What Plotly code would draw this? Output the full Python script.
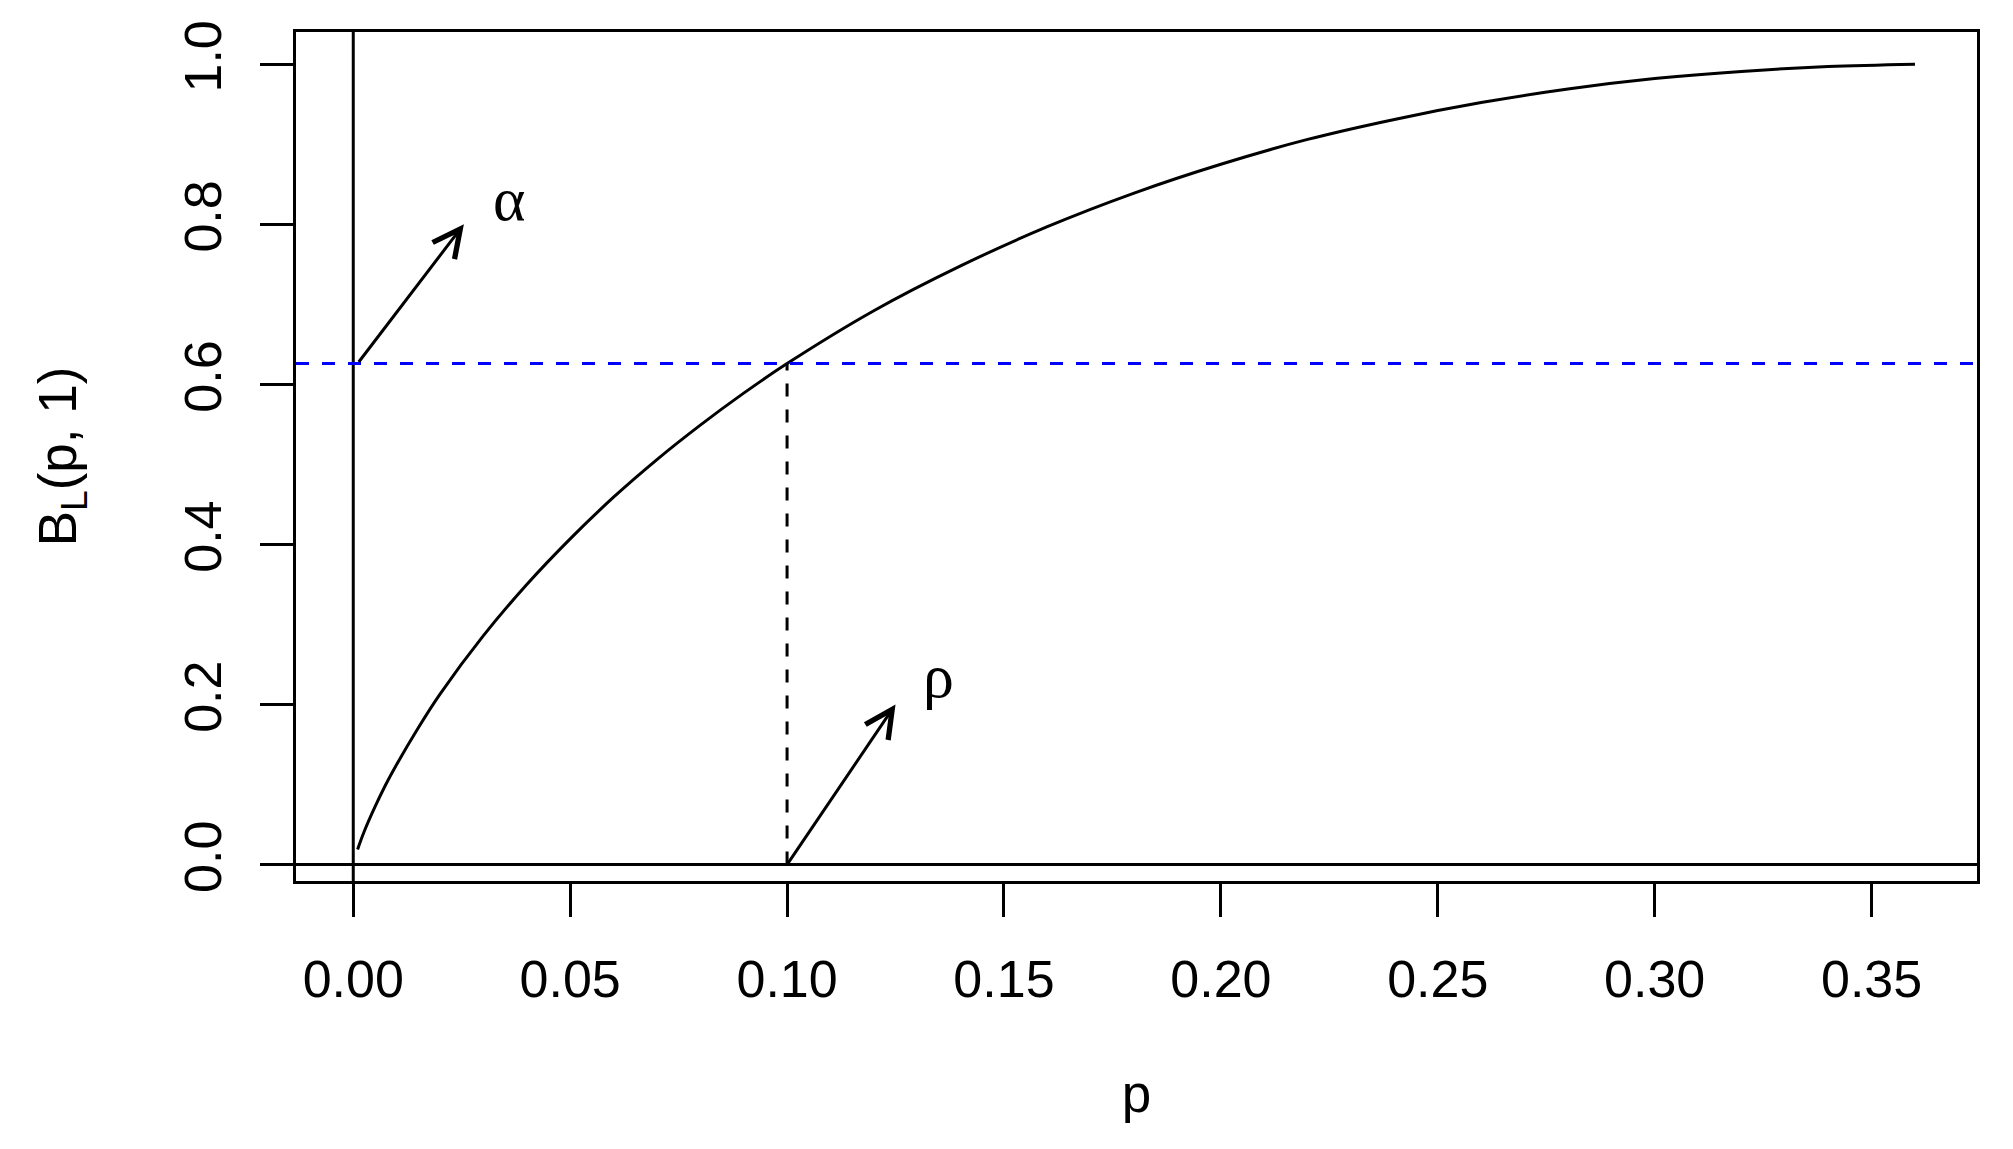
import plotly.graph_objects as go

# curve B_L(p, 1)
p_vals = [0.001, 0.0025, 0.005, 0.0075, 0.01, 0.015, 0.02, 0.03, 0.04, 0.05,
          0.06, 0.07, 0.08, 0.09, 0.10, 0.12, 0.14, 0.16, 0.18, 0.20,
          0.22, 0.24, 0.26, 0.28, 0.30, 0.32, 0.34, 0.36]
b_vals = [0.019, 0.041, 0.072, 0.100, 0.125, 0.171, 0.213, 0.286, 0.350, 0.407,
          0.459, 0.506, 0.549, 0.589, 0.626, 0.692, 0.748, 0.797, 0.839, 0.875,
          0.906, 0.931, 0.952, 0.969, 0.982, 0.991, 0.997, 1.000]

alpha = 0.626   # blue dashed level
rho = 0.10      # where the curve meets alpha

# arrows: (tail_x, tail_y, tip_x, tip_y) and their labels
arrow_alpha = (0.001, alpha, 0.0255, 0.80)
arrow_rho = (rho, 0.0, 0.125, 0.20)
label_alpha = (0.036, 0.831, "α")
label_rho = (0.135, 0.235, "ρ")

x_ticks = [0.00, 0.05, 0.10, 0.15, 0.20, 0.25, 0.30, 0.35]
x_labels = ["0.00", "0.05", "0.10", "0.15", "0.20", "0.25", "0.30", "0.35"]
y_ticks = [0.0, 0.2, 0.4, 0.6, 0.8, 1.0]
y_labels = ["0.0", "0.2", "0.4", "0.6", "0.8", "1.0"]

FONT = "Liberation Sans, Arial, sans-serif"
GREEK = "Liberation Serif, DejaVu Serif, serif"
LW = 3

fig = go.Figure()
fig.add_trace(go.Scatter(
    x=p_vals, y=b_vals, mode="lines",
    line=dict(color="black", width=LW, shape="spline"),
    hoverinfo="skip"
))

# reference lines
fig.add_hline(y=0, line=dict(color="black", width=LW))
fig.add_vline(x=0, line=dict(color="black", width=LW))
fig.add_hline(y=alpha, line=dict(color="blue", width=LW, dash="13px,13px"))
fig.add_shape(type="line", x0=rho, x1=rho, y0=0, y1=alpha,
              line=dict(color="black", width=LW, dash="13px,13px"))

for tx, ty, hx, hy in (arrow_alpha, arrow_rho):
    fig.add_annotation(x=hx, y=hy, ax=tx, ay=ty, axref="x", ayref="y",
                       xref="x", yref="y", text="", showarrow=True,
                       arrowhead=5, arrowsize=1.8, arrowwidth=LW,
                       arrowcolor="black", standoff=0, startstandoff=0)

for lx, ly, txt in (label_alpha, label_rho):
    fig.add_annotation(x=lx, y=ly, text=txt, showarrow=False,
                       xanchor="center", yanchor="middle",
                       font=dict(family=GREEK, size=62, color="black"))

axis_common = dict(
    showline=True, mirror=True, linecolor="black", linewidth=LW,
    ticks="outside", ticklen=33, tickwidth=LW, tickcolor="black",
    showgrid=False, zeroline=False,
    tickfont=dict(family=FONT, size=52, color="black"),
)

fig.update_xaxes(range=[-0.0132, 0.3743], tickvals=x_ticks, ticktext=x_labels,
                 ticklabelstandoff=18,
                 title=dict(text="p", font=dict(family=FONT, size=53, color="black"),
                            standoff=68),
                 **axis_common)
fig.update_yaxes(range=[-0.0205, 1.0402], tickvals=y_ticks, ticktext=y_labels,
                 tickangle=-90, ticklabelstandoff=18,
                 title=dict(text="B<sub>L</sub>(p, 1)",
                            font=dict(family=FONT, size=53, color="black"),
                            standoff=81),
                 **axis_common)

# the page adds an 8px body margin, so the figure is shrunk by 8px
fig.update_layout(
    width=2005, height=1141,
    margin=dict(l=288, r=36, t=21, b=268),
    plot_bgcolor="white", paper_bgcolor="white",
    showlegend=False,
)

fig.write_html("out.html")
